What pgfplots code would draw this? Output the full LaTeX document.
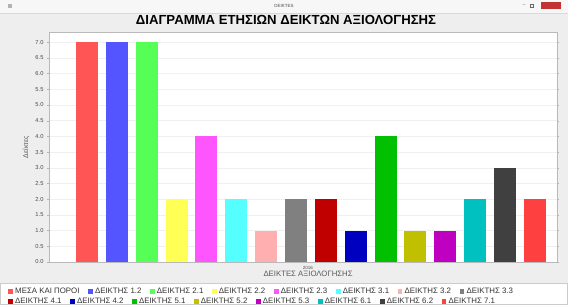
\documentclass[border=0pt]{standalone}
\usepackage{pgfplots}
\pgfplotsset{compat=1.18}
\usepackage{fontspec}
\setmainfont{Liberation Sans}
\definecolor{panel}{HTML}{EEEEEE}
\definecolor{titlebar}{HTML}{F7F7F7}
\definecolor{c1}{HTML}{FF5555}
\definecolor{c2}{HTML}{5555FF}
\definecolor{c3}{HTML}{55FF55}
\definecolor{c4}{HTML}{FFFF55}
\definecolor{c5}{HTML}{FF55FF}
\definecolor{c6}{HTML}{55FFFF}
\definecolor{c7}{HTML}{FFAFAF}
\definecolor{c8}{HTML}{808080}
\definecolor{c9}{HTML}{C00000}
\definecolor{c10}{HTML}{0000C0}
\definecolor{c11}{HTML}{00C000}
\definecolor{c12}{HTML}{C0C000}
\definecolor{c13}{HTML}{C000C0}
\definecolor{c14}{HTML}{00C0C0}
\definecolor{c15}{HTML}{404040}
\definecolor{c16}{HTML}{FF4040}
\pgfplotsset{
  mybar/.style={ybar, bar shift=0pt, bar width=22bp, draw=none, fill=#1,
    legend image code/.code={\fill[fill=#1,draw=none] (0bp,-2.3bp) rectangle (4.8bp,2.3bp);}},
  common/.style={
    at={(49bp,43bp)}, anchor=south west, scale only axis,
    width=508bp, height=230bp,
    xmin=-1.27, xmax=15.74, ymin=0, ymax=7.32,
    legend columns=8,
    legend style={draw=none, fill=none, font=\fontsize{7.9}{8}\selectfont,
      text=black!80,
      nodes={inner sep=1bp}, 
      /tikz/every odd column/.append style={column sep=1.2bp},
      /tikz/every even column/.append style={column sep=7.5bp}},
  }
}
\begin{document}
\begin{tikzpicture}[x=1bp,y=1bp]
\useasboundingbox (0,0) rectangle (568,305);
\fill[panel] (0,0) rectangle (568,305);
\fill[titlebar] (0,292) rectangle (568,305);
\draw[gray!30] (0,292) -- (568,292);
\node[text=gray!60!black, font=\fontsize{4.5}{5}\selectfont] at (284,299) {DEIKTES};
\fill[gray!60] (8,297) rectangle (12,301);
\fill[red!70!black!80] (541,296) rectangle (561,303);
\node[text=gray!80!black, font=\fontsize{5}{5}\selectfont] at (524,299.5) {–};
\draw[gray!80!black, line width=0.4bp] (530,298) rectangle (533,301);
\node[font=\bfseries\fontsize{13.2}{14}\selectfont] at (286,285) {ΔΙΑΓΡΑΜΜΑ ΕΤΗΣΙΩΝ ΔΕΙΚΤΩΝ ΑΞΙΟΛΟΓΗΣΗΣ};
\fill[white] (0,0) rectangle (568,22);
\draw[gray!40] (0.5,0.5) rectangle (567.5,22);
\begin{axis}[common,
  axis background/.style={fill=white},
  axis line style={gray!55},
  ymajorgrids, major grid style={gray!12},
  ytick distance=0.5,
  tick align=outside, major tick length=2bp,
  ytick style={gray!60},
  xtick={7.4}, xticklabels={2016}, xtick style={draw=none},
  /pgf/number format/assume math mode=true,
  yticklabel style={/pgf/number format/fixed, /pgf/number format/fixed zerofill, /pgf/number format/precision=1},
  ticklabel style={text=gray!60!black},
  y tick label style={font=\fontsize{5.8}{6}\selectfont},
  x tick label style={font=\fontsize{4.5}{4.5}\selectfont, yshift=1bp},
  ylabel={Δείκτες},
  ylabel style={font=\fontsize{7}{7}\selectfont, text=gray!70!black, at={(axis description cs:-0.045,0.5)}, anchor=center},
  xlabel={ΔΕΙΚΤΕΣ ΑΞΙΟΛΟΓΗΣΗΣ},
  xlabel style={font=\fontsize{7.8}{8}\selectfont, text=gray!70!black, at={(axis description cs:0.51,-0.05)}, anchor=center},
  legend style={at={(axis description cs:-0.0866,-0.127)}, anchor=west},
]
\addplot[mybar=c1] coordinates {(0,7)};
\addlegendentry{ΜΕΣΑ ΚΑΙ ΠΟΡΟΙ}
\addplot[mybar=c2] coordinates {(1,7)};
\addlegendentry{ΔΕΙΚΤΗΣ 1.2}
\addplot[mybar=c3] coordinates {(2,7)};
\addlegendentry{ΔΕΙΚΤΗΣ 2.1}
\addplot[mybar=c4] coordinates {(3,2)};
\addlegendentry{ΔΕΙΚΤΗΣ 2.2}
\addplot[mybar=c5] coordinates {(4,4)};
\addlegendentry{ΔΕΙΚΤΗΣ 2.3}
\addplot[mybar=c6] coordinates {(5,2)};
\addlegendentry{ΔΕΙΚΤΗΣ 3.1}
\addplot[mybar=c7] coordinates {(6,1)};
\addlegendentry{ΔΕΙΚΤΗΣ 3.2}
\addplot[mybar=c8] coordinates {(7,2)};
\addlegendentry{ΔΕΙΚΤΗΣ 3.3}
\end{axis}
\begin{axis}[common, hide axis,
  legend style={at={(axis description cs:-0.0866,-0.171)}, anchor=west},
]
\addplot[mybar=c9] coordinates {(8,2)};
\addlegendentry{ΔΕΙΚΤΗΣ 4.1}
\addplot[mybar=c10] coordinates {(9,1)};
\addlegendentry{ΔΕΙΚΤΗΣ 4.2}
\addplot[mybar=c11] coordinates {(10,4)};
\addlegendentry{ΔΕΙΚΤΗΣ 5.1}
\addplot[mybar=c12] coordinates {(11,1)};
\addlegendentry{ΔΕΙΚΤΗΣ 5.2}
\addplot[mybar=c13] coordinates {(12,1)};
\addlegendentry{ΔΕΙΚΤΗΣ 5.3}
\addplot[mybar=c14] coordinates {(13,2)};
\addlegendentry{ΔΕΙΚΤΗΣ 6.1}
\addplot[mybar=c15] coordinates {(14,3)};
\addlegendentry{ΔΕΙΚΤΗΣ 6.2}
\addplot[mybar=c16] coordinates {(15,2)};
\addlegendentry{ΔΕΙΚΤΗΣ 7.1}
\end{axis}
\end{tikzpicture}
\end{document}
